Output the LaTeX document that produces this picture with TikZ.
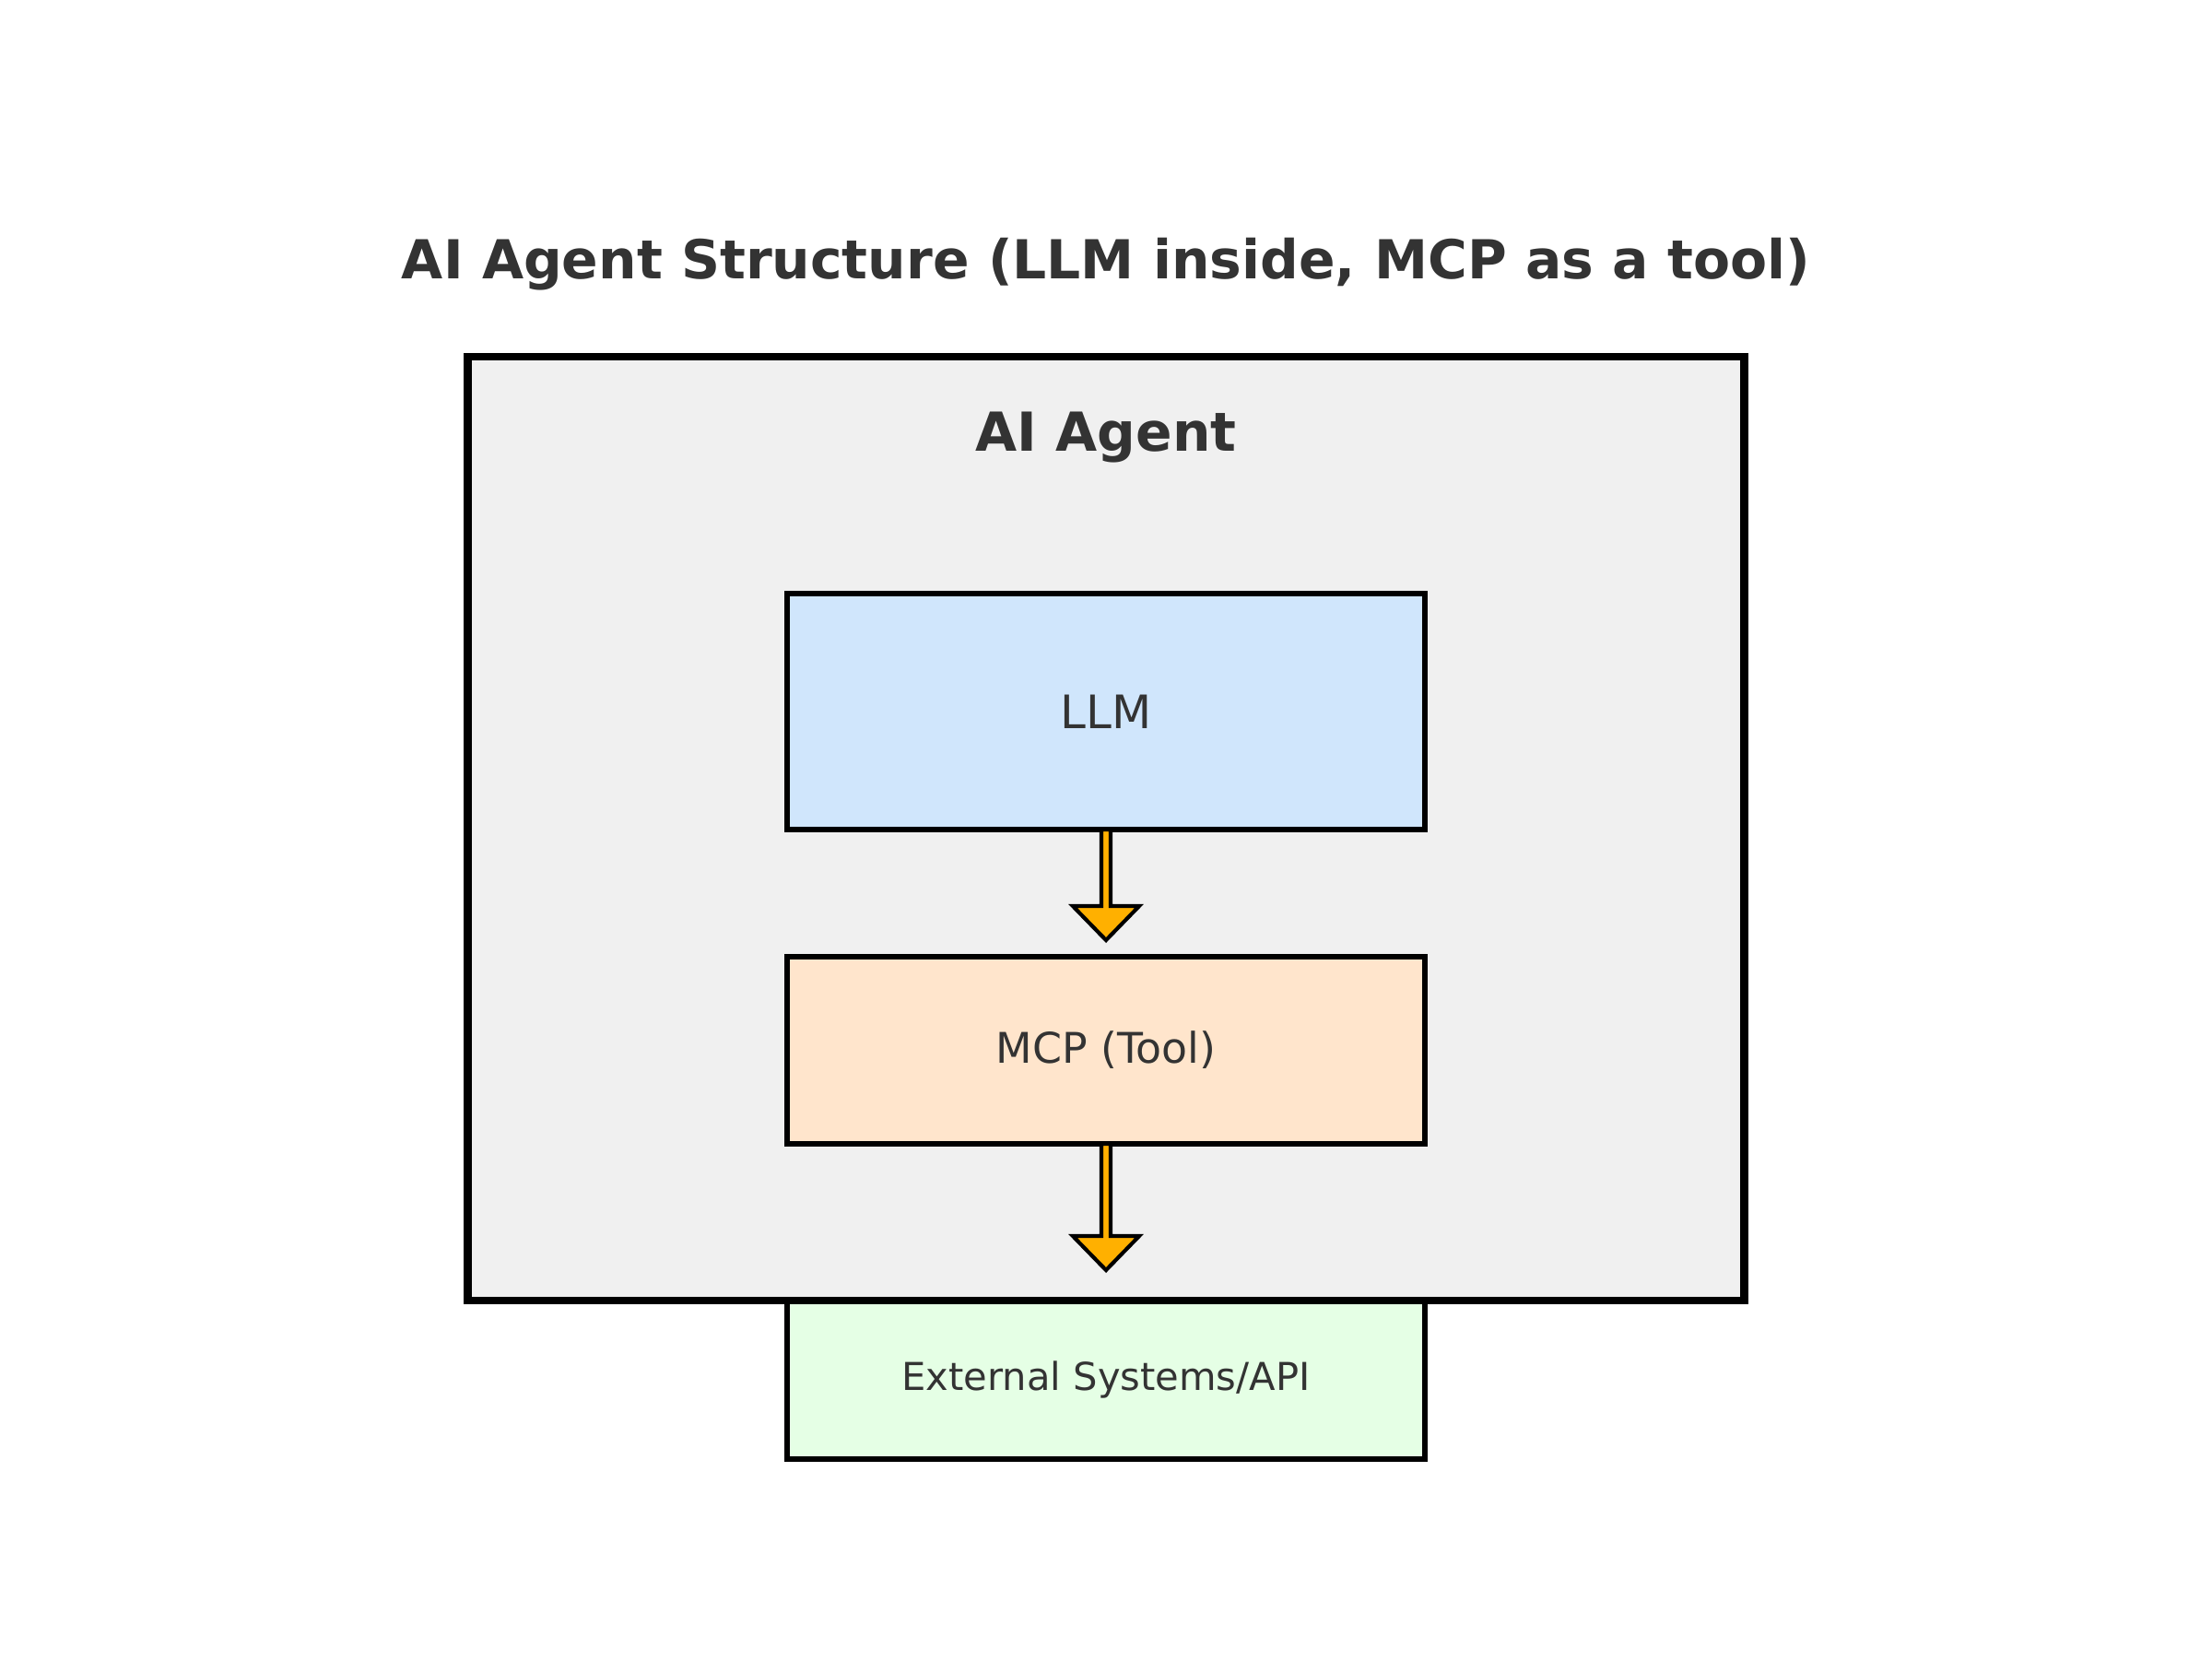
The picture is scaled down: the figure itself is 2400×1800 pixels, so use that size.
\documentclass[tikz,border=0pt]{standalone}
\usepackage{fontspec}
\setmainfont{DejaVu Sans}
\usetikzlibrary{calc}

\definecolor{textgray}{HTML}{333333}
\definecolor{agentgray}{HTML}{F0F0F0}
\definecolor{llmblue}{HTML}{D0E6FC}
\definecolor{mcppeach}{HTML}{FFE5CC}
\definecolor{extgreen}{HTML}{E5FFE5}
\definecolor{arrowgold}{HTML}{FFB000}

% flat block arrow from a node anchor down to a tip
\newcommand{\blockarrow}[2]{%
	\draw[flowarrow] ($(#1)+(-5,0)$) -- ($(#2)+(-5,-37)$) -- ($(#2)+(-36,-37)$) -- (#2)
		-- ($(#2)+(36,-37)$) -- ($(#2)+(5,-37)$) -- ($(#1)+(5,0)$) -- cycle;}

\begin{document}
\begin{tikzpicture}[x=0.24pt, y=-0.24pt, every node/.style={text=textgray, inner sep=0pt, outer sep=0pt}]
		\tikzstyle{heading} = [font=\fontsize{14}{17}\selectfont\bfseries, anchor=base]
		\tikzstyle{agentbox} = [rectangle, draw=black, line width=2pt, fill=agentgray, minimum width=332.4pt, minimum height=245.76pt]
		\tikzstyle{block} = [rectangle, draw=black, line width=1.5pt, minimum width=166.08pt]
		\tikzstyle{flowarrow} = [draw=black, line width=1pt, fill=arrowgold]
		
		\useasboundingbox (0,0) rectangle (2400,1800);
		
		\node[heading] (title) at (1200,302) {AI Agent Structure (LLM inside, MCP as a tool)};
		
		\node[block, fill=extgreen, minimum height=41.28pt, font=\fontsize{10}{12}\selectfont] (ext) at (1200,1497) {External Systems/API};
		\node[agentbox] (agent) at (1200,899) {};
		\node[heading] (agentname) at (1200,489) {AI Agent};
		
		\node[block, fill=llmblue, minimum height=61.44pt, font=\fontsize{12}{14}\selectfont] (llm) at (1200,772) {LLM};
		\node[block, fill=mcppeach, minimum height=48.72pt, font=\fontsize{11}{13}\selectfont] (mcp) at (1200,1139.5) {MCP (Tool)};
		
		\coordinate (tipmcp) at (1200,1020);
		\coordinate (tipext) at (1200,1378);
		
		\blockarrow{llm.south}{tipmcp}
		\blockarrow{mcp.south}{tipext}
	\end{tikzpicture}
\end{document}
